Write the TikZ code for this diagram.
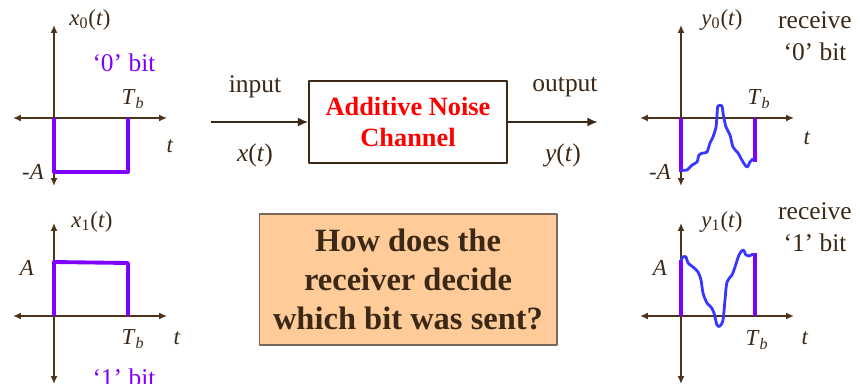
\documentclass[tikz,border=0pt]{standalone}
\usepackage{fontspec}
\setmainfont{Liberation Serif}
\usetikzlibrary{arrows.meta,positioning}
\definecolor{axbrown}{RGB}{77,51,25}
\definecolor{txtbrown}{RGB}{59,40,22}
\definecolor{bitpurple}{RGB}{128,0,255}
\definecolor{noiseblue}{RGB}{55,55,255}
\definecolor{peach}{RGB}{255,204,153}
\tikzset{
  lbl/.style={text=txtbrown,font=\fontsize{14.5}{16}\selectfont,inner sep=0pt},
  axlbl/.style={text=txtbrown,font=\fontsize{13}{15}\selectfont,inner sep=0pt},
  bitlbl/.style={text=bitpurple,font=\fontsize{14.5}{16}\selectfont,inner sep=0pt},
  axis/.style={axbrown,line width=0.9pt,{Latex[length=4.5pt,width=4pt]}-{Latex[length=4.5pt,width=4pt]}},
  pulse/.style={bitpurple,line width=2.2pt},
  noise/.style={noiseblue,line width=1.6pt,line join=round,line cap=round}
}
\begin{document}
\begin{tikzpicture}[x=0.02cm,y=-0.02cm,line join=round]
\useasboundingbox (0,0) rectangle (860,383);
% axes of the four plots
\foreach \ox/\oy in {54/118,54/316,681/118,681/316}{
  \draw[axis] (\ox-41,\oy)--(\ox+113,\oy);
  \draw[axis] (\ox,\oy-93)--(\ox,\oy+68);
}
% sent pulses
\draw[pulse] (54,118)--(54,172)--(128,172)--(128,118);
\draw[pulse] (54,316)--(54,262)--(128,263)--(128,316);
% received pulses
\draw[pulse] (681,118)--(681,172) (755,118)--(755,162);
\draw[pulse] (681,316)--(681,260) (755,316)--(755,253);
\draw[noise] plot[smooth,tension=0.5] coordinates{(681,170) (687,170) (692,165) (697,162) (699,155) (703,153) (707,152) (710,143) (713,137) (716,127) (717,115) (718,106) (722,106) (723,113) (726,127) (730,135) (733,147) (738,153) (743,162) (747,167) (750,162) (753,159)};
\draw[noise] plot[smooth,tension=0.5] coordinates{(681,260) (683,257) (686,257) (688,263) (693,267) (698,272) (701,280) (703,293) (707,303) (711,307) (714,313) (717,325) (720,326) (723,320) (725,300) (727,282) (732,275) (735,267) (739,255) (743,250) (746,255) (749,256) (753,254)};
% labels of the plots
\node[axlbl] (x0) at (90,20) {\textit{x}\textsubscript{0}(\textit{t})};
\node[axlbl] (x1) at (92,222) {\textit{x}\textsubscript{1}(\textit{t})};
\node[axlbl] (y0) at (722,20) {\textit{y}\textsubscript{0}(\textit{t})};
\node[axlbl] (y1) at (722,222) {\textit{y}\textsubscript{1}(\textit{t})};
\node[bitlbl] (bit0) at (124,63) {‘0’ bit};
\node[bitlbl] (bit1) at (124,378) {‘1’ bit};
\node[axlbl] (tb0) at (133,99) {\textit{T}\textsubscript{\textit{b}}};
\node[axlbl] (tb1) at (133,339) {\textit{T}\textsubscript{\textit{b}}};
\node[axlbl] (tb2) at (759,99) {\textit{T}\textsubscript{\textit{b}}};
\node[axlbl] (tb3) at (757,340) {\textit{T}\textsubscript{\textit{b}}};
\node[axlbl] (t0) at (170,146) {\textit{t}};
\node[axlbl] (t1) at (177,338) {\textit{t}};
\node[axlbl] (t2) at (807,138) {\textit{t}};
\node[axlbl] (t3) at (805,338) {\textit{t}};
\node[axlbl] (mA0) at (33,172) {-\textit{A}};
\node[axlbl] (A1) at (27,268) {\textit{A}};
\node[axlbl] (mA2) at (660,172) {-\textit{A}};
\node[axlbl] (A3) at (660,268) {\textit{A}};
\node[lbl,align=center] (rx0) at (815,36) {receive\\[2pt]‘0’ bit};
\node[lbl,align=center] (rx1) at (815,227) {receive\\[2pt]‘1’ bit};
% channel
\node[draw=txtbrown,line width=0.6pt,minimum width=3.96cm,minimum height=1.64cm,align=center,
  text=red,font=\fontsize{15}{17}\selectfont\bfseries] (chan) at (408,122) {Additive Noise\\[1pt]Channel};
\coordinate (in) at (211,122);
\coordinate (out) at (598,122);
\draw[txtbrown,line width=1.3pt,-{Latex[length=6pt,width=5pt]}] (in)--(chan);
\draw[txtbrown,line width=1.3pt,-{Latex[length=6pt,width=5pt]}] (chan)--(out);
\node[lbl] (inlbl) at (255,87) {input};
\node[lbl] (xt) at (255,155) {\textit{x}(\textit{t})};
\node[lbl] (outlbl) at (565,87) {output};
\node[lbl] (yt) at (563,155) {\textit{y}(\textit{t})};
% question
\node[draw=txtbrown!70,fill=peach,line width=0.6pt,minimum width=5.96cm,minimum height=2.62cm,align=center,
  text=txtbrown,font=\fontsize{18.5}{22}\selectfont\bfseries] (quest) at (408,279.5) {How does the\\receiver decide\\which bit was sent?};
\end{tikzpicture}
\end{document}
